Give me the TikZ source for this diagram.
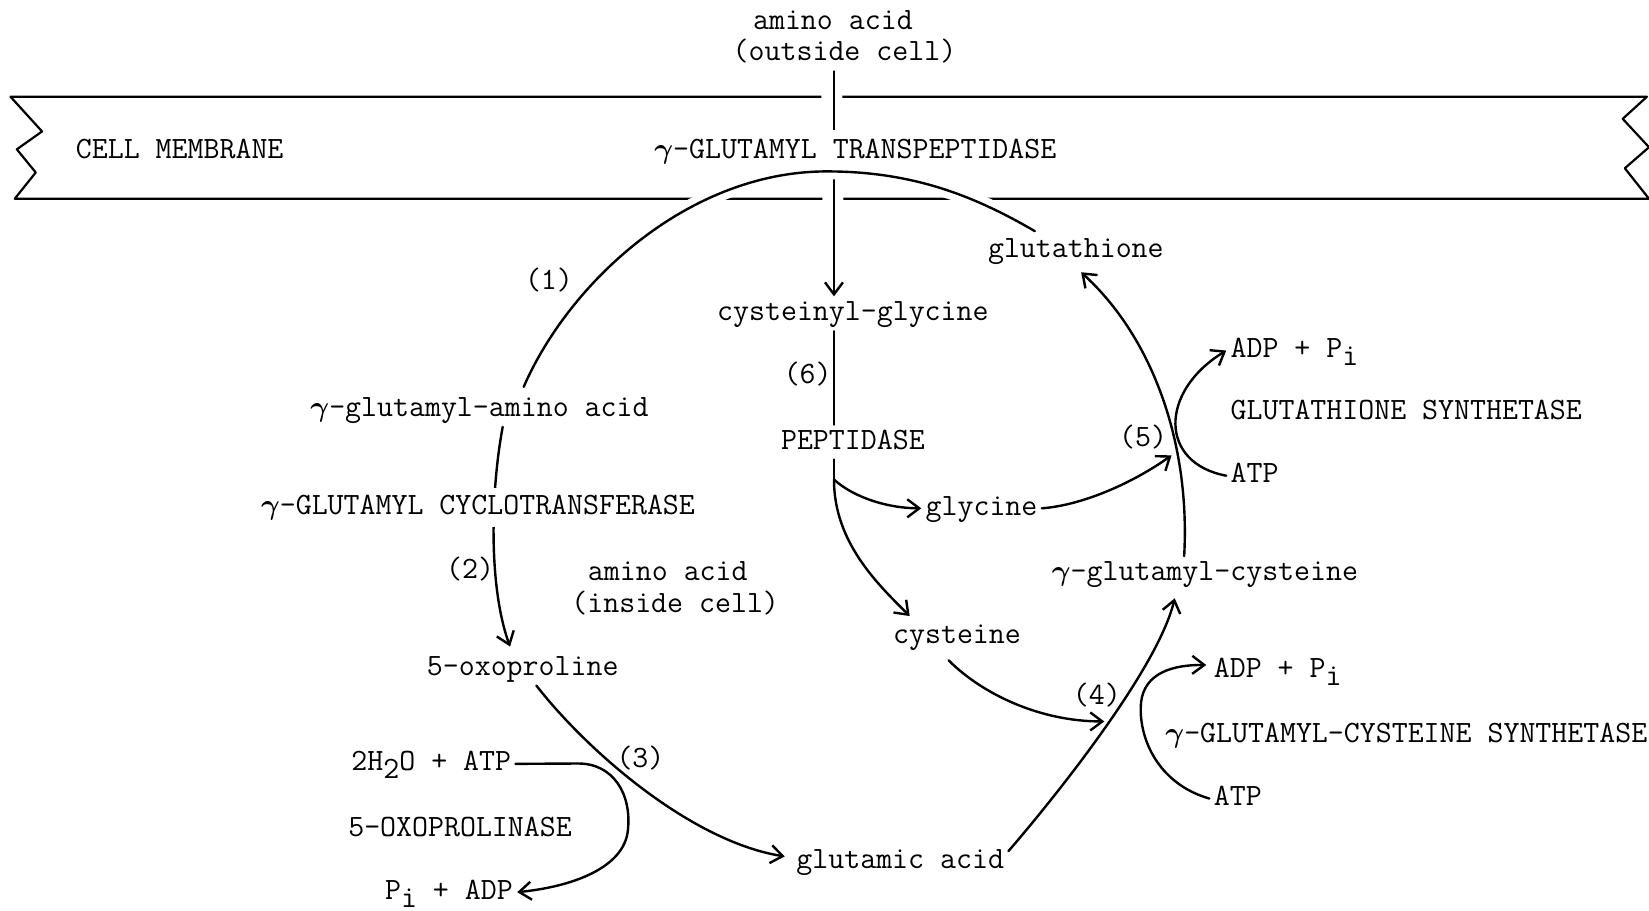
\documentclass[tikz,border=0pt]{standalone}
\usepackage{amsmath}
\usetikzlibrary{arrows.meta,calc}
\pgfdeclarelayer{bg}
\pgfsetlayers{bg,main}
\newcommand\tyf{\fontsize{15.5}{18}\selectfont\ttfamily}
\newcommand\gam{$\boldsymbol{\gamma}$}
\newcommand\lo[1]{\raisebox{-0.6ex}{#1}}
\begin{document}
\begin{tikzpicture}[x=0.52585pt,y=-0.52585pt,
  lbl/.style={font=\tyf, inner sep=2pt, text height=10pt, text depth=3pt, anchor=base},
  lblw/.style={lbl, anchor=base west},
  con/.style={line width=1.2pt, line cap=round, line join=round},
  arr/.style={con, -{Straight Barb[length=6pt,width=9pt]}},
  mem/.style={line width=1.1pt, line join=round},
  wgap/.style={preaction={draw=white, line width=8pt}}
]
\useasboundingbox (0,0) rectangle (1568,866);
\clip (0,0) rectangle (1568,866);
% ---------- text nodes ----------
\node[lbl] (out1) at (792,28) {amino acid};
\node[lbl] (out2) at (803,58) {(outside cell)};
\node[lblw] (cm) at (68,151) {CELL MEMBRANE};
\node[lblw, inner ysep=4pt] (tp) at (618,151) {\gam-GLUTAMYL TRANSPEPTIDASE};
\node[lbl] (glut) at (1023,245) {glutathione};
\node[lbl] (l1) at (522,275) {(1)};
\node[lbl] (cg) at (811,305) {cysteinyl-glycine};
\node[lblw] (adp1) at (1166,340) {ADP + P\lo{i}};
\node[lbl] (l6) at (768,365) {(6)};
\node[lblw] (gaa) at (291,396) {\gam-glutamyl-amino acid};
\node[lblw] (gs) at (1166,399) {GLUTATHIONE SYNTHETASE};
\node[lbl] (pep) at (811,427) {PEPTIDASE};
\node[lbl] (l5) at (1087,425) {(5)};
\node[lblw] (atp1) at (1166,459) {ATP};
\node[lblw, inner ysep=3pt] (gct) at (244,489) {\gam-GLUTAMYL CYCLOTRANSFERASE};
\node[lblw] (gly) at (876,490) {glycine};
\node[lbl] (l2) at (447,550) {(2)};
\node[lbl] (in1) at (635,552) {amino acid};
\node[lbl] (in2) at (642,582) {(inside cell)};
\node[lblw] (ggc) at (996,552) {\gam-glutamyl-cysteine};
\node[lbl] (cys) at (910,612) {cysteine};
\node[lbl] (oxo) at (497,642) {5-oxoproline};
\node[lblw] (adp2) at (1150,644) {ADP + P\lo{i}};
\node[lbl] (l4) at (1043,670) {(4)};
\node[lblw] (gcs) at (1104,706) {\gam-GLUTAMYL-CYSTEINE SYNTHETASE};
\node[lblw] (h2o) at (330,733) {2H\lo{2}O + ATP};
\node[lbl] (l3) at (609,730) {(3)};
\node[lblw] (atp2) at (1150,766) {ATP};
\node[lblw] (oxase) at (327,795) {5-OXOPROLINASE};
\node[lbl] (glu) at (856,826) {glutamic acid};
\node[lblw] (pi) at (362,855) {P\lo{i} + ADP};
% ---------- helper coordinates ----------
\coordinate (v) at (793,0);
\coordinate (split) at (793,456);
\coordinate (r5) at (1114,433);
\coordinate (r4) at (1050,686);
% ---------- background layer: membrane, transport ----------
\begin{pgfonlayer}{bg}
\fill[white] (0,0) rectangle (1568,866);
\draw[mem] (781,92) -- (10,92) -- (40,125) -- (16,142) -- (34,164) -- (14,189) -- (782,189);
\draw[mem] (801,92) -- (1566,92) -- (1543,113) -- (1568,140) -- (1545,160) -- (1568,189) -- (802,189);
\draw[arr] (out2.south -| v) -- (cg.north -| v);
\fill[white] (tp.south west) rectangle (tp.north east);
\draw[con, wgap] ($(glut.north)+(-39,-2)$) .. controls +(-60,-35) and +(80,0) .. (786,163)
   .. controls +(-130,0) and +(44,-101) .. ($(gaa.north west)+(207,-5)$);
\draw[arr] ($(gaa.south west)+(187,0)$) .. controls +(-12,65) and +(-20,-55) .. ($(oxo.north)+(-12,-4)$);
\fill[white] (gct.south west) rectangle (gct.north east);
\end{pgfonlayer}
% ---------- connectors ----------
\draw[con] (cg.south -| v) -- (pep.north -| v);
\draw[con] (pep.south -| v) -- (split);
\draw[arr] (split) .. controls +(20,18) and +(-30,0) .. (gly.west);
\draw[arr] (split) .. controls +(0,60) and +(-30,-30) .. ($(cys.north)+(-45,-3)$);
\draw[arr] (gly.east) .. controls +(40,-3) and +(-35,25) .. (r5);
\draw[arr] ($(ggc.north west)+(130,0)$) .. controls +(6,-109) and +(67,61) .. ($(glut.south)+(5,4)$);
\draw[arr] (atp1.west) .. controls +(-64,-12) and +(-64,39) .. (adp1.west);
\draw[arr] ($(oxo.south)+(13,0)$) .. controls +(50,64) and +(-88,-14) .. ($(glu.west)+(-7,-5)$);
\draw[arr] (h2o.east) -- (550,726) .. controls (583,726) and (601,755) .. (597,790)
   .. controls (593,825) and (545,843) .. (pi.east);
\draw[arr] ($(glu.east)+(0,-10)$) .. controls +(33,-38) and +(-17,71) .. ($(ggc.south west)+(121,7)$);
\draw[arr] ($(cys.south)+(-8,6)$) .. controls +(33,33) and +(-60,0) .. (r4);
\draw[arr] (atp2.west) .. controls (1100,745) and (1082,700) .. (1085,668)
   .. controls (1088,640) and (1115,632) .. ($(adp2.west)+(-3,-5)$);
\end{tikzpicture}
\end{document}
